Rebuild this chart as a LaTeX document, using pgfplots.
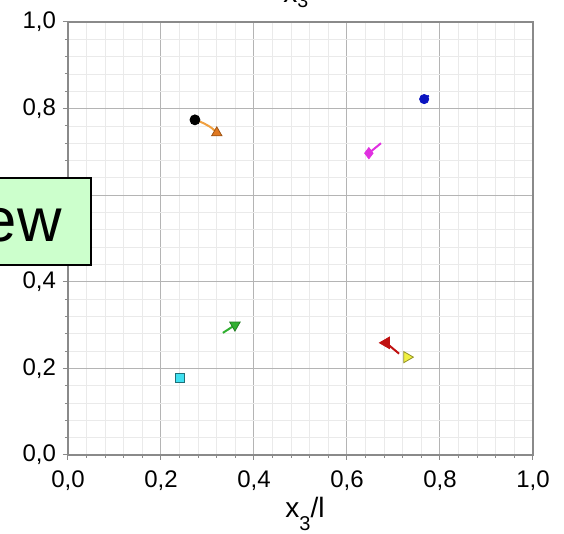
\documentclass[border=0pt]{standalone}
\usepackage{fontspec}
\setmainfont{Liberation Sans}
\usepackage{pgfplots}
\pgfplotsset{compat=1.18}

\definecolor{majgrid}{HTML}{B4B4B4}
\definecolor{mingrid}{HTML}{EAEAEA}
\definecolor{axisgray}{HTML}{8A8A8A}
\definecolor{orangeM}{HTML}{E07820}
\definecolor{orangeL}{HTML}{F0A040}
\definecolor{blueM}{HTML}{0A14C0}
\definecolor{magM}{HTML}{E030E0}
\definecolor{greenM}{HTML}{30B030}
\definecolor{cyanM}{HTML}{40E0F0}
\definecolor{redM}{HTML}{C01010}
\definecolor{yellowM}{HTML}{F0F040}
\definecolor{boxgreen}{HTML}{CCFFCC}

\begin{document}
\begin{tikzpicture}
\begin{axis}[
    at={(0,0)}, anchor=south west,
    scale only axis,
    width=232.5pt, height=216.5pt,
    xmin=0, xmax=1, ymin=0, ymax=1,
    xtick={0,0.2,0.4,0.6,0.8,1},
    ytick={0,0.2,0.4,0.6,0.8,1},
    minor tick num=4,
    grid=both,
    major grid style={draw=majgrid, line width=0.5pt},
    minor grid style={draw=mingrid, line width=0.4pt},
    axis line style={draw=axisgray, line width=0.6pt},
    tick align=outside, tick pos=left,
    major tick length=2.5pt, minor tick length=1.5pt,
    tick style={draw=axisgray, line width=0.5pt},
    tick label style={font=\fontsize{12}{14}\selectfont},
    xticklabel style={yshift=-2pt},
    /pgf/number format/.cd, use comma, fixed, fixed zerofill, precision=1,
    assume math mode=true,
]
% trails
\addplot[orangeL, line width=1pt, smooth] coordinates {
    (0.273,0.774) (0.290,0.767) (0.308,0.756) (0.320,0.744)
};
\addplot[blueM, line width=0.8pt] coordinates {(0.766,0.822) (0.776,0.830)};
\addplot[magM, line width=1pt] coordinates {(0.647,0.697) (0.673,0.720)};
\addplot[greenM, line width=1pt] coordinates {(0.333,0.282) (0.359,0.300)};
\addplot[redM, line width=1pt] coordinates {(0.684,0.259) (0.712,0.234)};
% markers
\addplot[only marks, mark=*, mark size=2.5pt, black] coordinates {(0.273,0.774)};
\addplot[only marks, mark=triangle*, mark size=3pt,
    mark options={fill=orangeM, draw=orangeM!70!black}] coordinates {(0.320,0.744)};
\addplot[only marks, mark=*, mark size=2.3pt, blueM] coordinates {(0.766,0.822)};
\addplot[only marks, mark=diamond*, mark size=2.8pt, magM] coordinates {(0.647,0.697)};
\addplot[only marks, mark=triangle*, mark size=3pt,
    mark options={rotate=180, fill=greenM, draw=greenM!70!black}] coordinates {(0.359,0.300)};
\addplot[only marks, mark=square*, mark size=2.2pt,
    mark options={fill=cyanM, draw=cyanM!50!black}] coordinates {(0.241,0.178)};
\addplot[only marks, mark=triangle*, mark size=3.3pt,
    mark options={rotate=90, fill=redM, draw=redM}] coordinates {(0.684,0.259)};
\addplot[only marks, mark=triangle*, mark size=3.2pt,
    mark options={rotate=-90, fill=yellowM, draw=yellowM!60!black}] coordinates {(0.729,0.226)};
\end{axis}

\begin{scope}[x=0.5pt, y=0.5pt]
    % title, cut at the top
    \node[anchor=base west, inner sep=0pt, font=\fontsize{14}{16}\selectfont]
        at (215,452) {x\textsubscript{3}};
    % x label
    \node[anchor=base west, inner sep=0pt, font=\fontsize{14}{16}\selectfont]
        at (217,-63) {x\raisebox{-6.3pt}{\fontsize{10}{12}\selectfont 3}/l};
    % overlapping box
    \fill[boxgreen] (-90,190) rectangle (23,277);
    \draw[black, line width=1.2pt] (-90,277) -- (23,277) -- (23,190) -- (-90,190);
    \node[anchor=base east, inner sep=0pt, font=\fontsize{30.8}{36}\selectfont]
        at (-6,213) {ew};
    \pgfresetboundingbox
    \useasboundingbox (-68,-79) rectangle (496,455);
\end{scope}
\end{tikzpicture}
\end{document}
